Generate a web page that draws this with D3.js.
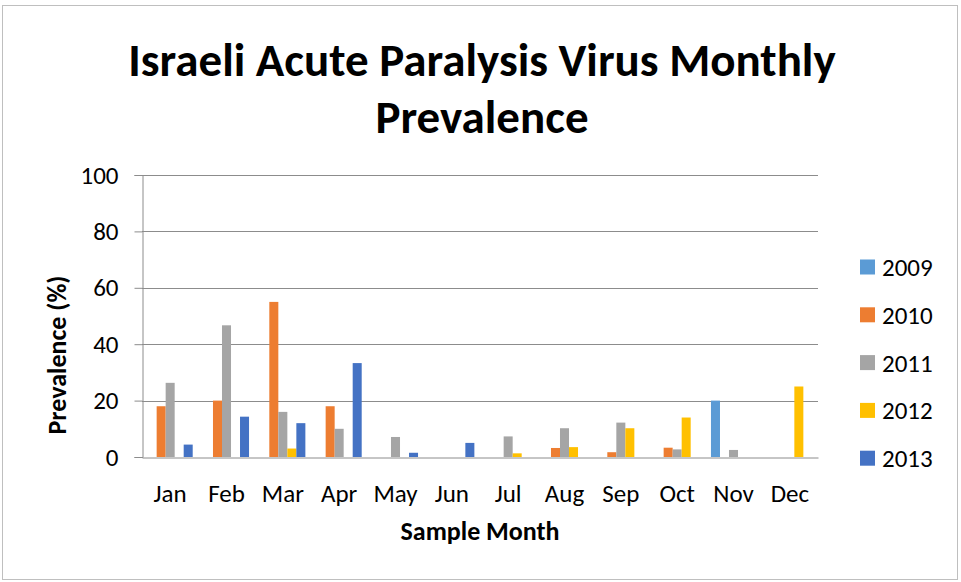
<!DOCTYPE html>
<html>
<head>
<meta charset="utf-8">
<script src="https://cdn.jsdelivr.net/npm/d3@7"></script>
<style>
  body { margin: 0; background: #fff; }
  svg { font-family: Carlito, Calibri, Lato, sans-serif; }
</style>
</head>
<body>
<div id="chart"></div>
<script>
// Chart data.
const months = ["Jan", "Feb", "Mar", "Apr", "May", "Jun", "Jul", "Aug", "Sep", "Oct", "Nov", "Dec"];
const years = ["2009", "2010", "2011", "2012", "2013"];
const colors = ["#5B9BD5", "#ED7D31", "#A5A5A5", "#FFC000", "#4472C4"];

const v2009 = [0, 0, 0, 0, 0, 0, 0, 0, 0, 0, 20, 0];
const v2010 = [18, 20, 55, 18, 0, 0, 0, 3.2, 1.7, 3.3, 0, 0];
const v2011 = [26.3, 46.7, 16, 10, 7.1, 0, 7.3, 10.2, 12.2, 2.7, 2.5, 0];
const v2012 = [0, 0, 3, 0, 0, 0, 1.3, 3.5, 10.2, 14, 0, 25];
const v2013 = [4.4, 14.3, 12, 33.3, 1.5, 5, 0, 0, 0, 0, 0, 0];
const seriesValues = [v2009, v2010, v2011, v2012, v2013];

const yTicks = [0, 20, 40, 60, 80, 100];
const titleLines = ["Israeli Acute Paralysis Virus Monthly", "Prevalence"];

const width = 961, height = 582;
const margin = { top: 175, right: 143, bottom: 125, left: 142 };
const labelSize = "25px";

const svg = d3.select("#chart")
  .append("svg")
  .attr("width", width)
  .attr("height", height);

// outer frame
svg.append("rect")
  .attr("x", 2.5).attr("y", 5.5)
  .attr("width", 955).attr("height", 574)
  .attr("fill", "#fff")
  .attr("stroke", "#BFBFBF")
  .attr("stroke-width", 1);

const x0 = d3.scaleBand()
  .domain(months)
  .range([margin.left, width - margin.right])
  .paddingInner(0.2)
  .paddingOuter(0.1);

const x1 = d3.scaleBand()
  .domain(years)
  .range([0, x0.bandwidth()]);

const y = d3.scaleLinear()
  .domain([0, 100])
  .range([height - margin.bottom, margin.top]);

// gridlines
svg.append("g")
  .selectAll("line")
  .data(yTicks.filter(d => d > 0))
  .enter()
  .append("line")
  .attr("x1", margin.left)
  .attr("x2", width - margin.right)
  .attr("y1", d => Math.round(y(d)) + 0.5)
  .attr("y2", d => Math.round(y(d)) + 0.5)
  .attr("stroke", "#8C8C8C")
  .attr("stroke-width", 1);

// y axis
const yAxis = svg.append("g")
  .attr("transform", `translate(${margin.left + 0.5},0)`)
  .call(d3.axisLeft(y).tickValues(yTicks).tickSize(8).tickPadding(16));
yAxis.select(".domain").attr("stroke", "#8C8C8C");
yAxis.selectAll(".tick line").attr("stroke", "#8C8C8C");
yAxis.selectAll(".tick text")
  .attr("fill", "#000")
  .style("font-size", labelSize)
  .style("font-family", "Carlito, Calibri, Lato, sans-serif");

// bars
const groups = svg.append("g")
  .selectAll("g")
  .data(months)
  .enter()
  .append("g")
  .attr("transform", d => `translate(${x0(d)},0)`);

groups.selectAll("rect")
  .data((m, i) => years.map((yr, k) => ({ year: yr, value: seriesValues[k][i], color: colors[k] })))
  .enter()
  .filter(d => d.value > 0)
  .append("rect")
  .attr("x", d => x1(d.year))
  .attr("width", x1.bandwidth())
  .attr("y", d => y(d.value))
  .attr("height", d => y(0) - y(d.value))
  .attr("fill", d => d.color);

// x axis
const xAxis = svg.append("g")
  .attr("transform", `translate(0,${Math.round(y(0)) + 0.5})`)
  .call(d3.axisBottom(x0).tickSize(0).tickPadding(27));
xAxis.select(".domain").attr("stroke", "#8C8C8C");
xAxis.selectAll(".tick text")
  .attr("fill", "#000")
  .style("font-size", labelSize)
  .style("font-family", "Carlito, Calibri, Lato, sans-serif");

// title, two lines
svg.selectAll(".title")
  .data(titleLines)
  .enter()
  .append("text")
  .attr("class", "title")
  .attr("text-anchor", "middle")
  .attr("x", 482)
  .attr("y", (d, i) => 76 + i * 57)
  .style("font-size", "47px")
  .style("font-weight", "bold")
  .text(d => d);

// axis titles
svg.append("text")
  .attr("x", 480).attr("y", 540)
  .attr("text-anchor", "middle")
  .style("font-size", "26px")
  .style("font-weight", "bold")
  .text("Sample Month");

svg.append("text")
  .attr("transform", "translate(66,355) rotate(-90)")
  .attr("text-anchor", "middle")
  .style("font-size", "26px")
  .style("font-weight", "bold")
  .text("Prevalence (%)");

// legend
const legend = svg.append("g")
  .selectAll("g")
  .data(years)
  .enter()
  .append("g")
  .attr("transform", (d, i) => `translate(860,${267 + i * 47.8})`);

legend.append("rect")
  .attr("x", 0).attr("y", -7.5)
  .attr("width", 15).attr("height", 15)
  .attr("fill", (d, i) => colors[i]);

legend.append("text")
  .attr("x", 22).attr("y", 9)
  .style("font-size", labelSize)
  .text(d => d);
</script>
</body>
</html>
